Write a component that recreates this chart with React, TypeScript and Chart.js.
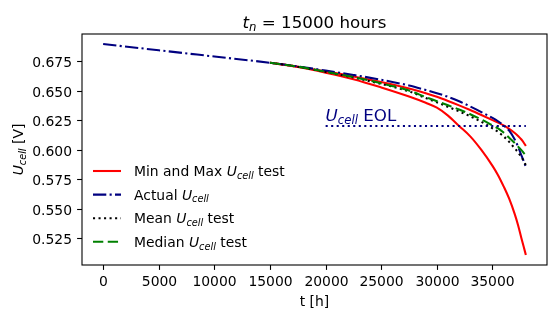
import React, { useEffect, useRef } from "react";
import { Chart, registerables } from "chart.js";
Chart.register(...registerables);

// ---- data ----
const tActual = [0, 5000, 10000, 15000, 17500, 20000, 22500, 25000, 27500, 29000, 30000, 31000, 32000, 33000, 34000, 35000, 35500, 36000, 36500, 37000, 37300, 37600, 37800, 38000];
const uActual = [0.6895, 0.6842, 0.6789, 0.6736, 0.6705, 0.667, 0.6633, 0.6592, 0.6543, 0.6505, 0.6478, 0.6447, 0.641, 0.6365, 0.6318, 0.6268, 0.624, 0.6205, 0.616, 0.6085, 0.6025, 0.595, 0.5905, 0.5851];

const tTest = [15000, 17500, 20000, 22500, 25000, 27500, 29000, 30000, 31000, 32000, 33000, 34000, 35000, 35500, 36000, 36500, 37000, 37300, 37600, 37800, 38000];
const uMax = [0.6736, 0.6703, 0.6663, 0.662, 0.6572, 0.6518, 0.6478, 0.6447, 0.6412, 0.6375, 0.6335, 0.6293, 0.625, 0.6228, 0.6205, 0.6175, 0.614, 0.6115, 0.6085, 0.606, 0.603];
const uMin = [0.6736, 0.67, 0.6652, 0.6597, 0.6527, 0.645, 0.6397, 0.6355, 0.6288, 0.62, 0.6112, 0.5997, 0.5862, 0.5783, 0.5688, 0.5583, 0.5452, 0.5358, 0.5248, 0.5178, 0.5106];
const uMean = [0.6736, 0.6702, 0.6658, 0.6611, 0.6557, 0.6493, 0.6437, 0.64, 0.6362, 0.6324, 0.6282, 0.6235, 0.618, 0.615, 0.6112, 0.6065, 0.601, 0.5975, 0.5935, 0.5905, 0.5866];
const uMedian = [0.6736, 0.6703, 0.666, 0.6614, 0.6562, 0.65, 0.6445, 0.641, 0.6375, 0.634, 0.63, 0.6255, 0.6205, 0.618, 0.6145, 0.61, 0.6055, 0.6025, 0.5995, 0.5972, 0.595];

const eolT = [20000, 38000];
const eolU = [0.62, 0.62];

const xTicks = [0, 5000, 10000, 15000, 20000, 25000, 30000, 35000];
const yTicks = [0.525, 0.55, 0.575, 0.6, 0.625, 0.65, 0.675];

type Seg = { t: string; it?: boolean; sub?: boolean };
const FAM = '"DejaVu Sans"';
const FS = 13.9;

const legendItems: { segs: Seg[]; color: string; dash: number[] }[] = [
  { segs: [{ t: "Min and Max " }, { t: "U", it: true }, { t: "cell", it: true, sub: true }, { t: " test" }], color: "#ff0000", dash: [] },
  { segs: [{ t: "Actual " }, { t: "U", it: true }, { t: "cell", it: true, sub: true }], color: "#000080", dash: [13.3, 3.3, 2.1, 3.3] },
  { segs: [{ t: "Mean " }, { t: "U", it: true }, { t: "cell", it: true, sub: true }, { t: " test" }], color: "#000000", dash: [2.08, 3.44] },
  { segs: [{ t: "Median " }, { t: "U", it: true }, { t: "cell", it: true, sub: true }, { t: " test" }], color: "#008000", dash: [10.3, 4.45] },
];

function segFont(s: Seg, fs: number) {
  const size = s.sub ? fs * 0.7 : fs;
  return `${s.it ? "italic " : ""}${size}px ${FAM}`;
}
function richWidth(ctx: CanvasRenderingContext2D, segs: Seg[], fs: number) {
  let w = 0;
  for (const s of segs) {
    ctx.font = segFont(s, fs);
    w += ctx.measureText(s.t).width;
  }
  return w;
}
function drawRich(ctx: CanvasRenderingContext2D, segs: Seg[], x: number, y: number, fs: number, color: string) {
  ctx.fillStyle = color;
  ctx.textBaseline = "alphabetic";
  ctx.textAlign = "left";
  let cx = x;
  for (const s of segs) {
    ctx.font = segFont(s, fs);
    ctx.fillText(s.t, cx, y + (s.sub ? fs * 0.2 : 0));
    cx += ctx.measureText(s.t).width;
  }
}

const pts = (xs: number[], ys: number[]) => xs.map((x, i) => ({ x, y: ys[i] }));

const decor = {
  id: "decor",
  afterDraw(chart: any) {
    const ctx: CanvasRenderingContext2D = chart.ctx;
    const a = chart.chartArea;
    const xs = chart.scales.x;
    const ys = chart.scales.y;
    ctx.save();
    // box
    ctx.strokeStyle = "#000";
    ctx.lineWidth = 1.1;
    ctx.strokeRect(a.left, a.top, a.right - a.left, a.bottom - a.top);

    // ticks + tick labels (positions from the chart's scales)
    ctx.font = `${FS}px ${FAM}`;
    ctx.fillStyle = "#000";
    ctx.textBaseline = "alphabetic";
    ctx.textAlign = "center";
    xTicks.forEach((v) => {
      const px = Math.round(xs.getPixelForValue(v)) + 0.5;
      ctx.beginPath();
      ctx.moveTo(px, a.bottom);
      ctx.lineTo(px, a.bottom + 4.9);
      ctx.stroke();
      ctx.fillText(String(v), px, a.bottom + 20.7);
    });
    ctx.textAlign = "right";
    yTicks.forEach((v) => {
      const py = Math.round(ys.getPixelForValue(v)) + 0.5;
      ctx.beginPath();
      ctx.moveTo(a.left, py);
      ctx.lineTo(a.left - 4.9, py);
      ctx.stroke();
      ctx.fillText(v.toFixed(3), a.left - 10, py + 5);
    });

    // title
    const title: Seg[] = [{ t: "t", it: true }, { t: "n", it: true, sub: true }, { t: " = 15000 hours" }];
    const tfs = 16.7;
    const tw = richWidth(ctx, title, tfs);
    drawRich(ctx, title, (a.left + a.right) / 2 - tw / 2, 27.5, tfs, "#000");

    // x label
    ctx.font = `${FS}px ${FAM}`;
    ctx.fillStyle = "#000";
    ctx.textAlign = "center";
    ctx.textBaseline = "alphabetic";
    ctx.fillText("t [h]", (a.left + a.right) / 2, 305.5);

    // y label
    const yl: Seg[] = [{ t: "U", it: true }, { t: "cell", it: true, sub: true }, { t: " [V]" }];
    const yw = richWidth(ctx, yl, FS);
    ctx.save();
    ctx.translate(23, (a.top + a.bottom) / 2);
    ctx.rotate(-Math.PI / 2);
    drawRich(ctx, yl, -yw / 2, 0, FS, "#000");
    ctx.restore();

    // EOL annotation
    const eol: Seg[] = [{ t: "U", it: true }, { t: "cell", it: true, sub: true }, { t: " EOL" }];
    drawRich(ctx, eol, xs.getPixelForValue(eolT[0]), ys.getPixelForValue(eolU[0]) - 5, 16.7, "#000080");

    // legend
    legendItems.forEach((it, i) => {
      const y = 171 + i * 23.6;
      ctx.beginPath();
      ctx.strokeStyle = it.color;
      ctx.lineWidth = 2.08;
      ctx.setLineDash(it.dash);
      ctx.moveTo(93, y);
      ctx.lineTo(121, y);
      ctx.stroke();
      ctx.setLineDash([]);
      drawRich(ctx, it.segs, 134, y + 5, FS, "#000");
    });
    ctx.restore();
  },
};

export default function App() {
  const ref = useRef<HTMLCanvasElement | null>(null);
  useEffect(() => {
    document.body.style.margin = "0";
    const canvas = ref.current!;
    const common = { pointRadius: 0, borderWidth: 2.08, fill: false, cubicInterpolationMode: "monotone" as const };
    const chart = new Chart(canvas, {
      type: "line",
      data: {
        // dataset 0 is drawn on top in Chart.js
        datasets: [
          { label: "EOL", data: pts(eolT, eolU), borderColor: "#000080", borderDash: [2.08, 3.44], ...common },
          { label: "Median", data: pts(tTest, uMedian), borderColor: "#008000", borderDash: [10.3, 4.45], ...common },
          { label: "Mean", data: pts(tTest, uMean), borderColor: "#000000", borderDash: [2.08, 3.44], ...common },
          { label: "Actual", data: pts(tActual, uActual), borderColor: "#000080", borderDash: [13.3, 3.3, 2.1, 3.3], ...common },
          { label: "Max", data: pts(tTest, uMax), borderColor: "#ff0000", ...common },
          { label: "Min", data: pts(tTest, uMin), borderColor: "#ff0000", ...common },
        ],
      },
      options: {
        responsive: false,
        animation: false,
        devicePixelRatio: 1,
        layout: { padding: { top: 34, right: 9, left: 0, bottom: 0 } },
        plugins: { legend: { display: false }, tooltip: { enabled: false }, title: { display: false } },
        scales: {
          x: {
            type: "linear",
            min: -1900,
            max: 39900,
            afterFit: (s: any) => { s.height = 53; },
            afterBuildTicks: (s: any) => { s.ticks = xTicks.map((v) => ({ value: v })); },
            grid: { display: false },
            border: { display: false },
            ticks: { display: false },
          },
          y: {
            type: "linear",
            min: 0.5021,
            max: 0.698,
            afterFit: (s: any) => { s.width = 82; },
            afterBuildTicks: (s: any) => { s.ticks = yTicks.map((v) => ({ value: v })); },
            grid: { display: false },
            border: { display: false },
            ticks: { display: false },
          },
        },
      },
      plugins: [decor],
    });
    return () => chart.destroy();
  }, []);
  return <canvas ref={ref} width={556} height={318} style={{ display: "block" }} />;
}
